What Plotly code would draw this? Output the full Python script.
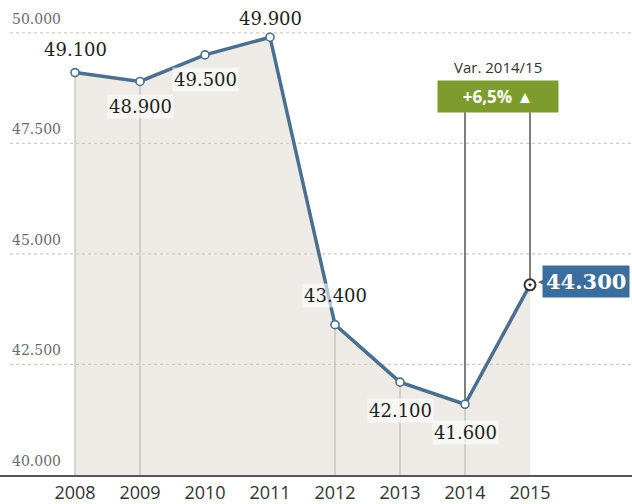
import plotly.graph_objects as go

years = [2008, 2009, 2010, 2011, 2012, 2013, 2014, 2015]
values = [49100, 48900, 49500, 49900, 43400, 42100, 41600, 44300]
labels = ["49.100", "48.900", "49.500", "49.900", "43.400", "42.100", "41.600", "44.300"]
label_shift = [23, -25, -25, 19, 29, -28, -28, 0]
drop_years = [2008, 2009, 2012, 2013, 2014]
ytick_vals = [40000, 42500, 45000, 47500, 50000]
ytick_text = ["40.000", "42.500", "45.000", "47.500", "50.000"]
var_title = "Var. 2014/15"
var_text = "+6,5% ▲"

W, H = 632, 504
plot_h = 478
px_per_unit = 44.5 / 1000
px_per_year = 65.0
x0px = 75
y_lo = 40000
y_hi = y_lo + plot_h / px_per_unit
x_lo = 2008 - x0px / px_per_year
x_hi = 2008 + (W - x0px) / px_per_year

def yval_from_px(p):
    return y_hi - p / px_per_unit

LINE = "#4a6f8f"
AREA = "#eeebe6"
GREEN = "#7e9c2d"
BLUE = "#3b6e9c"
SERIF = "DejaVu Serif"
SANS = "Open Sans"

fig = go.Figure()

# area
fig.add_trace(go.Scatter(x=years, y=values, mode="lines", line=dict(width=0),
                         fill="tozeroy", fillcolor=AREA, hoverinfo="skip"))

# dotted gridlines
for v in ytick_vals[1:]:
    fig.add_trace(go.Scatter(x=[x_lo + 10 / px_per_year, x_hi], y=[v, v], mode="lines",
                             line=dict(color="#cfccc6", width=1.2, dash="dot"), hoverinfo="skip"))

# drop lines
for yr in drop_years:
    v = values[years.index(yr)]
    fig.add_trace(go.Scatter(x=[yr, yr], y=[y_lo, v], mode="lines",
                             line=dict(color="#b5b2ac", width=1), hoverinfo="skip"))

# dark connector lines to var box
box_bottom = yval_from_px(113)
for yr in [2014, 2015]:
    v = values[years.index(yr)]
    fig.add_trace(go.Scatter(x=[yr, yr], y=[box_bottom, v], mode="lines",
                             line=dict(color="#555555", width=1.5), hoverinfo="skip"))

# main line
fig.add_trace(go.Scatter(x=years, y=values, mode="lines+markers",
                         line=dict(color=LINE, width=3.5),
                         marker=dict(size=8, color="white", line=dict(color=LINE, width=1.6)),
                         hoverinfo="skip"))
# highlighted last point
fig.add_trace(go.Scatter(x=[years[-1]], y=[values[-1]], mode="markers",
                         marker=dict(size=11, symbol="circle-dot", color="white",
                                     line=dict(color="#333333", width=2)),
                         hoverinfo="skip"))

annotations = []
for yr, v, t, s in zip(years[:-1], values[:-1], labels[:-1], label_shift[:-1]):
    annotations.append(dict(x=yr, y=v, text=t, showarrow=False, yshift=s,
                            font=dict(family=SERIF, size=18, color="#1e1e1e"),
                            bgcolor="rgba(255,255,255,0.6)", borderpad=1))

# last value box
annotations.append(dict(x=years[-1], y=values[-1], text="<b>" + labels[-1] + "</b>",
                        showarrow=False, xanchor="left", xshift=12, yshift=3,
                        font=dict(family=SERIF, size=21, color="white"),
                        bgcolor=BLUE, borderpad=3))
annotations.append(dict(x=years[-1], y=values[-1], text="◀", showarrow=False,
                        xshift=11, yshift=3, font=dict(size=7, color=BLUE)))

# y tick labels
for v, t in zip(ytick_vals, ytick_text):
    annotations.append(dict(x=10 / W, xref="paper", y=v, text=t, showarrow=False,
                            xanchor="left", yanchor="bottom", yshift=4,
                            font=dict(family=SERIF, size=14, color="#6a6a6a")))

# variation box
annotations.append(dict(x=2014.5, y=1 - 97 / plot_h, yref="paper", yanchor="middle",
                        text="<b>" + var_text + "</b>",
                        showarrow=False, font=dict(family=SANS, size=17, color="white"),
                        bgcolor=GREEN, width=116, height=27, borderpad=2))
annotations.append(dict(x=2014.5, y=1 - 67 / plot_h, yref="paper", yanchor="middle",
                        text=var_title,
                        showarrow=False, font=dict(family=SANS, size=15, color="#333333")))

fig.update_layout(
    width=W, height=H,
    margin=dict(l=0, r=0, t=0, b=H - plot_h),
    paper_bgcolor="white", plot_bgcolor="white",
    showlegend=False,
    annotations=annotations,
    xaxis=dict(range=[x_lo, x_hi], tickvals=years, ticktext=[str(y) for y in years],
               showgrid=False, zeroline=False, showline=True, linecolor="#555555",
               linewidth=2, ticks="", tickfont=dict(family=SANS, size=18, color="#333333"),
               fixedrange=True),
    yaxis=dict(range=[y_lo, y_hi], showgrid=False, zeroline=False, showticklabels=False,
               showline=False, fixedrange=True),
)

fig.write_html("out.html", config={"displayModeBar": False})
